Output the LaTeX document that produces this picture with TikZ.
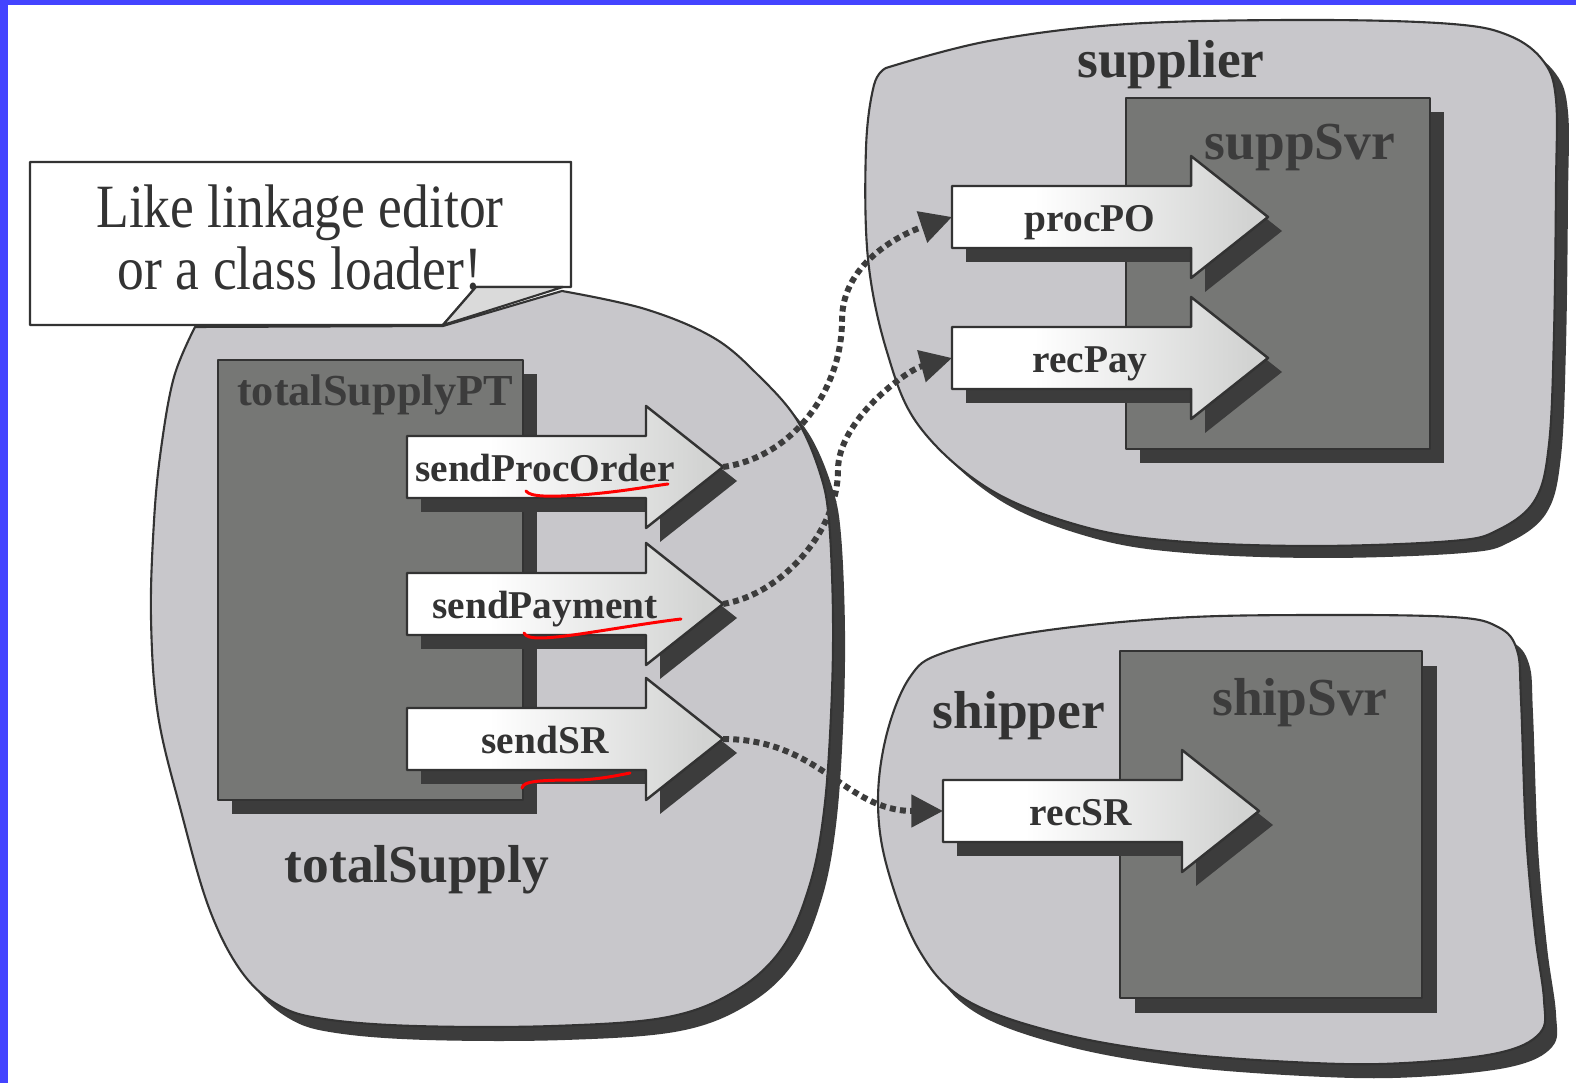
\documentclass[tikz,border=0pt]{standalone}
\usepackage{fontspec}
\setmainfont{Liberation Serif}
\usepackage{graphicx}
\usetikzlibrary{arrows.meta}

\definecolor{bluebar}{HTML}{4444FF}
\definecolor{blobgray}{HTML}{C8C7CB}
\definecolor{boxgray}{HTML}{767775}
\definecolor{shadowgray}{HTML}{3C3C3C}
\definecolor{inkgray}{HTML}{333333}
\definecolor{headgray}{HTML}{D2D3D2}
\definecolor{tailgray}{HTML}{DADADA}

\pgfdeclarehorizontalshading{arrowshade}{100bp}{color(0bp)=(white); color(38bp)=(white); color(72bp)=(headgray); color(100bp)=(headgray)}

\tikzset{
  blob/.style={fill=blobgray, draw=inkgray, line width=0.6pt},
  svrbox/.style={fill=boxgray, draw=inkgray, line width=0.6pt},
  arrowbody/.style={shading=arrowshade, draw=inkgray, line width=0.7pt},
  arrowlabel/.style={anchor=base, inner sep=0pt, text=inkgray, font=\fontsize{11.2}{13}\selectfont\bfseries},
  bloblabel/.style={anchor=base, inner sep=0pt, text=inkgray, font=\fontsize{15.2}{18}\selectfont\bfseries},
  boxlabel/.style={anchor=base, inner sep=0pt, text=shadowgray, font=\fontsize{15.2}{18}\selectfont\bfseries},
  link/.style={draw=shadowgray, line width=1.7pt, dash pattern=on 1.7pt off 1.2pt,
    -{Triangle[length=9pt,width=9pt]}},
  redline/.style={draw=red, line width=0.85pt, line cap=round},
}

% fat arrow: name, x, y of the tail centre, label
\newcommand{\fatarrow}[4]{%
  \begin{scope}[shift={(#2,#3)}]
    \fill[shadowgray] (14,-17) -- (253,-17) -- (253,-47) -- (330,14) -- (253,75) -- (253,45) -- (14,45) -- cycle;
    \shadedraw[arrowbody] (0,-31) -- (239,-31) -- (239,-61) -- (316,0) -- (239,61) -- (239,31) -- (0,31) -- cycle;
    \node[arrowlabel] (#1) at (138,15) {#4};
    \coordinate (#1-tail) at (0,0);
    \coordinate (#1-tip) at (316,0);
  \end{scope}}

\newcommand{\totalSupplyOutline}{(195,327) -- (443,326) -- (562,291) -- plot[smooth,tension=0.6] coordinates {(562,291) (645,309) (714,338) (760,377) (797,420) (820,473) (829,521) (833,618) (831,715) (824,811) (810,884) (783,947) (737,990) (668,1017) (553,1026) (415,1026) (324,1019) (278,1005) (241,971) (209,908) (181,811) (158,715) (151,618) (154,521) (161,449) (174,377) (195,327)} -- cycle}
\newcommand{\supplierOutline}{(886,68) -- plot[smooth,tension=0.6] coordinates {(886,68) (989,41) (1128,24) (1313,20) (1452,24) (1510,36) (1544,62) (1556,100) (1556,185) (1554,333) (1549,444) (1535,500) (1498,530) (1452,541) (1313,546) (1174,541) (1081,526) (989,489) (919,426) (887,352) (868,259) (866,148) (874,85) (886,68)} -- cycle}
\newcommand{\shipperOutline}{plot[smooth cycle,tension=0.6] coordinates {(910,677) (943,653) (1035,632) (1174,618) (1313,615) (1452,617) (1498,627) (1517,650) (1521,700) (1526,833) (1535,933) (1544,1000) (1540,1033) (1498,1053) (1405,1063) (1313,1063) (1174,1053) (1058,1033) (966,1000) (919,950) (887,867) (878,800) (887,733)}}

\begin{document}
\begin{tikzpicture}[x=0.01cm, y=-0.01cm, line join=round]
  \useasboundingbox (0,0) rectangle (1576,1083);
  \fill[white] (0,0) rectangle (1576,1083);
  \fill[bluebar] (0,0) rectangle (8,1083);
  \fill[bluebar] (0,0) rectangle (1576,5);

  % callout
  \filldraw[fill=white, draw=inkgray, line width=0.7pt] (30,162) -- (571,162) -- (571,287) -- (476,287) -- (443,325) -- (30,325) -- cycle;
  \node[text=inkgray, font=\fontsize{17.5}{17.6}\selectfont] (note) at (300,246)
    {\scalebox{0.87}[1]{\begin{tabular}{@{}c@{}}Like linkage editor\\or a class loader!\end{tabular}}};

  % blobs
  \fill[shadowgray, shift={(12,14)}] \totalSupplyOutline;
  \path[blob] \totalSupplyOutline;
  \filldraw[fill=tailgray, draw=inkgray, line width=0.6pt] (443,325) -- (476,287) -- (563,287) -- cycle;
  \fill[shadowgray, shift={(12,12)}] \supplierOutline;
  \path[blob] \supplierOutline;
  \fill[shadowgray, shift={(12,14)}] \shipperOutline;
  \path[blob] \shipperOutline;

  % server boxes
  \fill[shadowgray] (232,374) rectangle (537,814);
  \path[svrbox] (218,360) rectangle (523,800);
  \fill[shadowgray] (1140,112) rectangle (1444,463);
  \path[svrbox] (1126,98) rectangle (1430,449);
  \fill[shadowgray] (1135,666) rectangle (1437,1013);
  \path[svrbox] (1120,651) rectangle (1422,998);

  \node[boxlabel, font=\fontsize{12.6}{15}\selectfont\bfseries] (ptLbl) at (375,406) {totalSupplyPT};
  \node[boxlabel] (suppSvrLbl) at (1300,160) {suppSvr};
  \node[boxlabel] (shipSvrLbl) at (1300,716) {shipSvr};

  \node[bloblabel] (totalSupplyLbl) at (417,883) {totalSupply};
  \node[bloblabel] (supplierLbl) at (1171,78) {supplier};
  \node[bloblabel] (shipperLbl) at (1019,729) {shipper};

  % ports
  \fatarrow{spo}{407}{467}{sendProcOrder}
  \fatarrow{spy}{407}{604}{sendPayment}
  \fatarrow{ssr}{407}{739}{sendSR}
  \fatarrow{ppo}{952}{217}{procPO}
  \fatarrow{rpy}{952}{358}{recPay}
  \fatarrow{rsr}{943}{811}{recSR}

  % hand marks
  \draw[redline] (526,491) .. controls (530,497) and (550,497) .. (580,495) .. controls (620,492) and (645,487) .. (668,484);
  \draw[redline] (524,633) .. controls (527,640) and (545,639) .. (580,634) .. controls (620,628) and (655,622) .. (681,619);
  \draw[redline] (522,788) .. controls (523,781) and (540,780) .. (580,780) .. controls (600,779) and (615,776) .. (630,773);

  % wiring
  \draw[link] (spo-tip) .. controls +(70,-10) and +(0,70) .. (842,320) .. controls +(0,-60) and +(-45,15) .. (ppo-tail);
  \draw[link] (spy-tip) .. controls +(60,-10) and +(0,60) .. (838,470) .. controls +(0,-50) and +(-45,12) .. (rpy-tail);
  \draw[link] (ssr-tip) .. controls +(97,0) and +(-98,0) .. (rsr-tail);
\end{tikzpicture}
\end{document}
